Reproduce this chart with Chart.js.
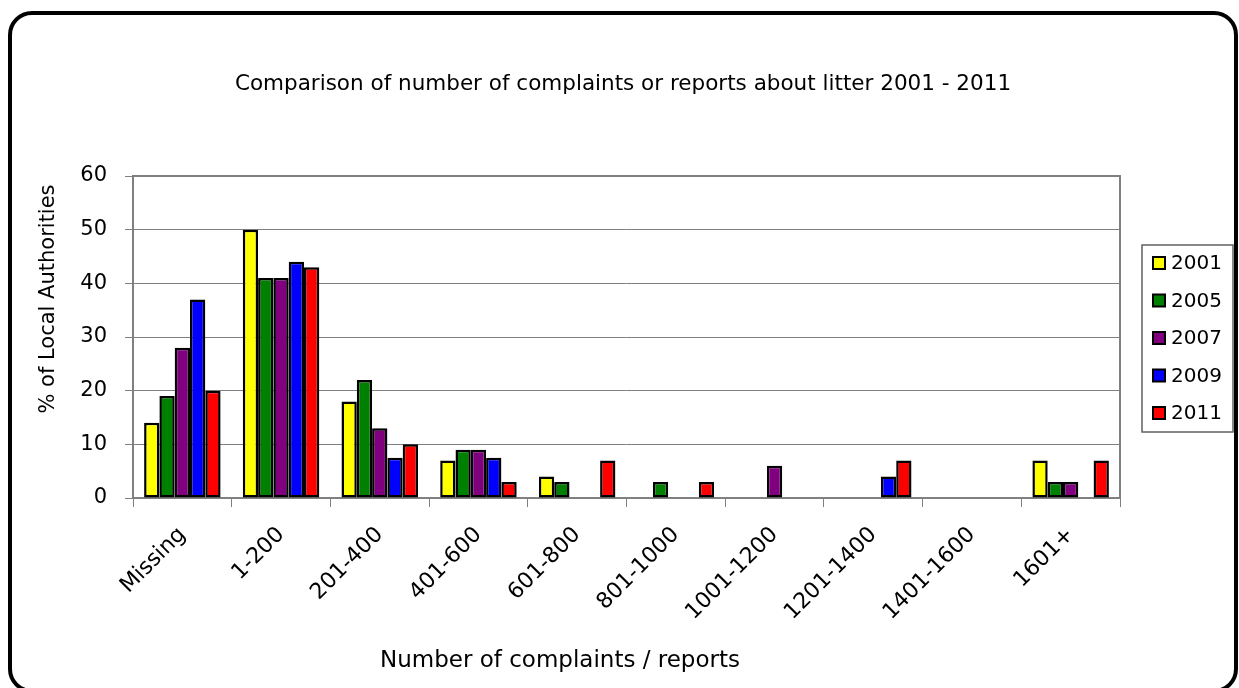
<!DOCTYPE html>
<html>
<head>
<meta charset="utf-8">
<script src="https://cdn.jsdelivr.net/npm/chart.js@4.4.1/dist/chart.umd.min.js"></script>
<style>
html, body { margin: 0; padding: 0; background: #fff; }
body { width: 1239px; height: 688px; overflow: hidden; position: relative; }
#frame { position: absolute; left: 8px; top: 11px; width: 1222px; height: 674px; border: 4px solid #000; border-radius: 24px; }
#chart { position: absolute; left: 0; top: 0; }
</style>
</head>
<body>
<div id="frame"></div>
<canvas id="chart" width="1239" height="688"></canvas>
<script>
// data
const categories = ['Missing', '1-200', '201-400', '401-600', '601-800', '801-1000', '1001-1200', '1201-1400', '1401-1600', '1601+'];
const years = ['2001', '2005', '2007', '2009', '2011'];
const v2001 = [14, 50, 18, 7, 4, 0, 0, 0, 0, 7];
const v2005 = [19, 41, 22, 9, 3, 3, 0, 0, 0, 3];
const v2007 = [28, 41, 13, 9, 0, 0, 6, 0, 0, 3];
const v2009 = [37, 44, 7.5, 7.5, 0, 0, 0, 4, 0, 0];
const v2011 = [20, 43, 10, 3, 7, 3, 0, 7, 0, 7];
const yTicks = [0, 10, 20, 30, 40, 50, 60];

const titleText = 'Comparison of number of complaints or reports about litter 2001 - 2011';
const xTitle = 'Number of complaints / reports';
const yTitle = '% of Local Authorities';

const colors = ['#ffff00', '#008000', '#800080', '#0000ff', '#ff0000'];
const series = [v2001, v2005, v2007, v2009, v2011];
const FONT = 'DejaVu Sans';

// grey frame round the plot area
const plotFrame = {
    id: 'plotFrame',
    beforeDatasetsDraw(chart) {
        const a = chart.chartArea;
        const ctx = chart.ctx;
        ctx.save();
        ctx.strokeStyle = '#808080';
        ctx.lineWidth = 2;
        ctx.strokeRect(a.left, a.top, a.right - a.left, a.bottom - a.top);
        ctx.restore();
    }
};

// chart title + axis titles (placed where the excel chart has them)
const titles = {
    id: 'titles',
    afterDraw(chart) {
        const ctx = chart.ctx;
        ctx.save();
        ctx.fillStyle = '#000';
        ctx.textAlign = 'center';
        ctx.textBaseline = 'middle';
        ctx.font = '21.5px ' + FONT;
        ctx.fillText(titleText, 623, 84);
        ctx.font = '23px ' + FONT;
        ctx.fillText(xTitle, 560, 661);
        ctx.translate(49, 299);
        ctx.rotate(-Math.PI / 2);
        ctx.font = '21px ' + FONT;
        ctx.fillText(yTitle, 0, 0);
        ctx.restore();
    }
};

// boxed legend on the right, like the excel one
const boxLegend = {
    id: 'boxLegend',
    afterDraw(chart) {
        const ctx = chart.ctx;
        const x = 1142, y = 245, w = 91, h = 187;
        ctx.save();
        ctx.strokeStyle = '#606060';
        ctx.lineWidth = 1.5;
        ctx.strokeRect(x, y, w, h);
        ctx.font = '20px ' + FONT;
        ctx.textBaseline = 'middle';
        chart.data.datasets.forEach((ds, i) => {
            const cy = y + 18 + i * 37.5;
            ctx.fillStyle = ds.backgroundColor;
            ctx.fillRect(x + 11, cy - 6, 12, 12);
            ctx.strokeStyle = '#000';
            ctx.lineWidth = 2;
            ctx.strokeRect(x + 11, cy - 6, 12, 12);
            ctx.fillStyle = '#000';
            ctx.fillText(ds.label, x + 29, cy + 1);
        });
        ctx.restore();
    }
};

new Chart(document.getElementById('chart'), {
    type: 'bar',
    data: {
        labels: categories,
        datasets: years.map((y, i) => ({
            label: y,
            data: series[i],
            backgroundColor: colors[i],
            borderColor: '#000',
            borderWidth: 2.5,
            borderSkipped: false,
            categoryPercentage: 0.775,
            barPercentage: 1.0
        }))
    },
    options: {
        responsive: false,
        animation: false,
        layout: { padding: { left: 0, right: 119, top: 176, bottom: 0 } },
        plugins: {
            legend: { display: false },
            tooltip: { enabled: false }
        },
        scales: {
            x: {
                grid: { offset: true, drawOnChartArea: false, drawTicks: true, tickLength: 9, color: '#808080' },
                border: { display: true, color: '#808080', width: 1.5 },
                ticks: {
                    color: '#000', minRotation: 45, maxRotation: 45, autoSkip: false, padding: 15,
                    font: { family: FONT, size: 22 }
                },
                afterFit(scale) { scale.height = 190; }
            },
            y: {
                min: 0, max: 60,
                afterBuildTicks(scale) { scale.ticks = yTicks.map(v => ({ value: v })); },
                grid: { color: '#808080', tickLength: 8, lineWidth: 1 },
                border: { display: true, color: '#808080', width: 1.5 },
                ticks: { color: '#000', padding: 18, font: { family: FONT, size: 21 } },
                afterFit(scale) { scale.width = 133; }
            }
        }
    },
    plugins: [plotFrame, titles, boxLegend]
});
</script>
</body>
</html>
